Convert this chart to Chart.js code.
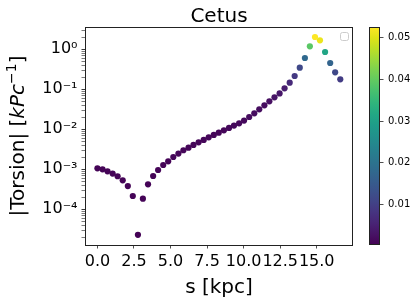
<!DOCTYPE html>
<html>
<head>
<meta charset="utf-8">
<script src="https://cdn.jsdelivr.net/npm/chart.js@4.4.0/dist/chart.umd.min.js"></script>
<style>
  html, body { margin: 0; padding: 0; background: #fff; }
</style>
</head>
<body>
<canvas id="chart" width="416" height="300"></canvas>
<script>
// s [kpc] along the stream
const s = [0.00, 0.35, 0.69, 1.04, 1.38, 1.73, 2.08, 2.42, 2.77, 3.11,
  3.46, 3.81, 4.15, 4.50, 4.84, 5.19, 5.54, 5.88, 6.23, 6.57,
  6.92, 7.27, 7.61, 7.96, 8.30, 8.65, 9.00, 9.34, 9.69, 10.03,
  10.38, 10.73, 11.07, 11.42, 11.76, 12.11, 12.46, 12.80, 13.15, 13.49,
  13.84, 14.19, 14.53, 14.88, 15.22, 15.57, 15.92, 16.26, 16.61];

// |Torsion|
const torsion = [1.06e-3, 1.0e-3, 8.9e-4, 7.8e-4, 6.7e-4, 5.3e-4, 3.8e-4, 2.15e-4, 2.3e-5, 1.84e-4,
  4.2e-4, 6.8e-4, 9.6e-4, 1.28e-3, 1.58e-3, 2.03e-3, 2.47e-3, 2.99e-3, 3.48e-3, 4.06e-3,
  4.73e-3, 5.41e-3, 6.31e-3, 7.22e-3, 8.25e-3, 9.44e-3, 1.08e-2, 1.24e-2, 1.41e-2, 1.65e-2,
  2.03e-2, 2.51e-2, 3.16e-2, 3.98e-2, 5.01e-2, 6.31e-2, 0.079, 0.106, 0.146, 0.215,
  0.347, 0.606, 1.19, 2.03, 1.68, 0.856, 0.454, 0.266, 0.178];

// colour value of each point
const colorVal = [0.0008, 0.0008, 0.0008, 0.0008, 0.0008, 0.0008, 0.0008, 0.0008, 0.0005, 0.0008,
  0.0008, 0.0008, 0.0008, 0.0008, 0.0008, 0.001, 0.001, 0.001, 0.001, 0.001,
  0.001, 0.001, 0.001, 0.001, 0.001, 0.001, 0.0015, 0.0015, 0.0015, 0.0015,
  0.002, 0.002, 0.002, 0.002, 0.0025, 0.003, 0.0035, 0.0045, 0.0065, 0.009,
  0.0115, 0.018, 0.039, 0.0526, 0.051, 0.031, 0.017, 0.0115, 0.0095];

const xTicks = [0, 2.5, 5, 7.5, 10, 12.5, 15];
const yMajorTicks = [1e-4, 1e-3, 1e-2, 1e-1, 1];
const yTickLabels = ["10⁻⁴", "10⁻³", "10⁻²", "10⁻¹", "10⁰"];
const cbTicks = [0.01, 0.02, 0.03, 0.04, 0.05];
const cbMin = 0.0003;
const cbMax = 0.0526;

const viridis = ["#440154", "#471365", "#482475", "#463480", "#414487", "#3b528b", "#355f8d",
  "#2f6c8e", "#2a788e", "#25848e", "#21918c", "#1e9c89", "#22a884", "#2fb47c", "#44bf70",
  "#5ec962", "#7ad151", "#9bd93c", "#bddf26", "#dfe318", "#fde725"];

const hexToRgb = (h) => [1, 3, 5].map((i) => parseInt(h.slice(i, i + 2), 16));

function viridisColor(v) {
  let t = (v - cbMin) / (cbMax - cbMin);
  t = Math.min(1, Math.max(0, t));
  const pos = t * (viridis.length - 1);
  const i = Math.min(viridis.length - 2, Math.floor(pos));
  const f = pos - i;
  const a = hexToRgb(viridis[i]);
  const b = hexToRgb(viridis[i + 1]);
  const c = a.map((x, j) => Math.round(x + (b[j] - x) * f));
  return `rgb(${c[0]}, ${c[1]}, ${c[2]})`;
}

Chart.defaults.font.family = "'DejaVu Sans', sans-serif";
Chart.defaults.color = "#000";

// cadre, barre de couleur, label y et legende vide
const decorations = {
  id: "decorations",
  afterDraw(chart) {
    const { ctx, chartArea: a, scales } = chart;
    ctx.save();

    // frame of the axes
    ctx.strokeStyle = "#222";
    ctx.lineWidth = 1;
    ctx.strokeRect(a.left + 0.5, a.top + 0.5, a.right - a.left - 1, a.bottom - a.top);

    // colorbar
    const cb = scales.cb;
    const top = cb.getPixelForValue(cbMax);
    const bottom = cb.getPixelForValue(cbMin);
    const x2 = cb.left;
    const x1 = x2 - 11;
    const grad = ctx.createLinearGradient(0, bottom, 0, top);
    viridis.forEach((c, i) => grad.addColorStop(i / (viridis.length - 1), c));
    ctx.fillStyle = grad;
    ctx.fillRect(x1, top, x2 - x1, bottom - top);
    ctx.strokeStyle = "#222";
    ctx.strokeRect(x1 + 0.5, top + 0.5, x2 - x1 - 1, bottom - top - 1);

    // empty legend frame
    ctx.strokeStyle = "#cccccc";
    ctx.fillStyle = "rgba(255,255,255,0.8)";
    ctx.beginPath();
    ctx.roundRect(340.5, 32.5, 8, 8, 2);
    ctx.fill();
    ctx.stroke();

    // y label with mathtext-like parts
    const parts = [
      { t: "|Torsion| [", f: "20px 'DejaVu Sans'", dy: 0 },
      { t: "kPc", f: "italic 20px 'DejaVu Sans'", dy: 0 },
      { t: "−1", f: "14px 'DejaVu Sans'", dy: -8 },
      { t: "]", f: "20px 'DejaVu Sans'", dy: 0 },
    ];
    let total = 0;
    parts.forEach((p) => {
      ctx.font = p.f;
      p.w = ctx.measureText(p.t).width;
      total += p.w;
    });
    ctx.translate(24, (a.top + a.bottom) / 2);
    ctx.rotate(-Math.PI / 2);
    ctx.fillStyle = "#000";
    ctx.textBaseline = "alphabetic";
    ctx.textAlign = "left";
    let x = -total / 2;
    parts.forEach((p) => {
      ctx.font = p.f;
      ctx.fillText(p.t, x, p.dy);
      x += p.w;
    });
    ctx.restore();
  },
};

const ctx = document.getElementById("chart").getContext("2d");

new Chart(ctx, {
  type: "scatter",
  data: {
    datasets: [
      {
        data: s.map((v, i) => ({ x: v, y: torsion[i] })),
        pointBackgroundColor: colorVal.map(viridisColor),
        pointBorderWidth: 0,
        pointRadius: 3.1,
        pointHoverRadius: 3.1,
      },
    ],
  },
  options: {
    responsive: false,
    animation: false,
    devicePixelRatio: 1,
    layout: { padding: 0 },
    plugins: {
      legend: { display: false },
      tooltip: { enabled: false },
      title: {
        display: true,
        text: "Cetus",
        fullSize: false,
        color: "#000",
        font: { size: 20, weight: "normal", lineHeight: 1 },
        padding: { top: 6.7, bottom: 0.3 },
      },
    },
    scales: {
      x: {
        type: "linear",
        min: -0.85,
        max: 17.48,
        afterFit: (scale) => { scale.height = 55; },
        afterBuildTicks: (scale) => { scale.ticks = xTicks.map((v) => ({ value: v })); },
        ticks: {
          autoSkip: false,
          maxRotation: 0,
          padding: 4,
          color: "#000",
          font: { size: 16 },
          callback: (v) => Number(v).toFixed(1),
        },
        grid: { drawOnChartArea: false, tickLength: 3.5, tickColor: "#222", tickWidth: 0.8 },
        border: { display: false },
        title: {
          display: true,
          text: "s [kpc]",
          color: "#000",
          font: { size: 20, lineHeight: 1.2 },
          padding: { top: 0, bottom: 0 },
        },
      },
      y: {
        type: "logarithmic",
        min: 1.28e-5,
        max: 3.61,
        afterFit: (scale) => { scale.width = 85; },
        afterBuildTicks: (scale) => {
          const t = [];
          for (let e = -5; e <= 0; e++) {
            for (let m = 1; m <= 9; m++) {
              const v = m * Math.pow(10, e);
              if (v >= scale.min && v <= scale.max) t.push({ value: v, major: m === 1 });
            }
          }
          scale.ticks = t;
        },
        ticks: {
          autoSkip: false,
          padding: 4,
          color: "#000",
          font: { size: 16 },
          callback: (v) => {
            const i = yMajorTicks.findIndex((m) => Math.abs(m - v) / m < 1e-6);
            return i >= 0 ? yTickLabels[i] : "";
          },
        },
        grid: {
          drawOnChartArea: false,
          tickLength: 3.5,
          tickColor: "#222",
          tickWidth: (c) => (c.tick && c.tick.major ? 0.9 : 0.6),
        },
        border: { display: false },
      },
      spacer: {
        type: "linear",
        position: "right",
        weight: 0,
        afterFit: (scale) => { scale.width = 27; },
        ticks: { display: false },
        grid: { display: false },
        border: { display: false },
      },
      cb: {
        type: "linear",
        position: "right",
        weight: 1,
        min: cbMin,
        max: cbMax,
        afterFit: (scale) => { scale.width = 36; },
        afterBuildTicks: (scale) => { scale.ticks = cbTicks.map((v) => ({ value: v })); },
        ticks: {
          autoSkip: false,
          padding: 4.5,
          color: "#000",
          font: { size: 10 },
          callback: (v) => Number(v).toFixed(2),
        },
        grid: { drawOnChartArea: false, tickLength: 3.5, tickColor: "#222", tickWidth: 0.8 },
        border: { display: false },
      },
    },
  },
  plugins: [decorations],
});
</script>
</body>
</html>
